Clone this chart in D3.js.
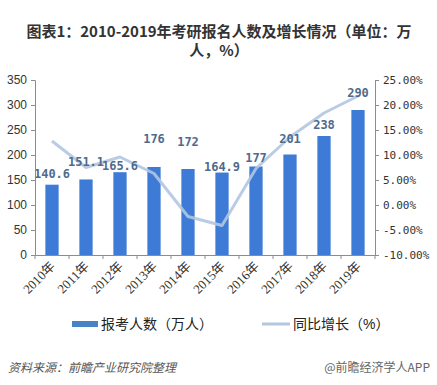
<!DOCTYPE html>
<html>
<head>
<meta charset="utf-8">
<script src="https://cdn.jsdelivr.net/npm/d3@7.9.0/dist/d3.min.js"></script>
<style>
  body { margin: 0; background: #fff; }
  svg text { font-family: "Liberation Sans", "Noto Sans CJK SC", sans-serif; }
</style>
</head>
<body>
<svg id="chart" width="437" height="385"></svg>
<script>
const years = ['2010年', '2011年', '2012年', '2013年', '2014年', '2015年', '2016年', '2017年', '2018年', '2019年'];
const applicants = [140.6, 151.1, 165.6, 176, 172, 164.9, 177, 201, 238, 290];
const growth = [12.8, 7.5, 9.6, 6.3, -2.3, -4.1, 7.3, 13.6, 18.4, 21.8];
const leftTicks = [0, 50, 100, 150, 200, 250, 300, 350];
const rightTicks = [-10, -5, 0, 5, 10, 15, 20, 25];
// label lift above bar top (Excel placed them by hand)
const labelLift = [7, 13, 2, 24, 23, 2, 5, 12, 7, 13];

const svg = d3.select('#chart');
const plotLeft = 35, plotRight = 375, plotTop = 80, plotBottom = 255;

const x = d3.scaleBand().domain(years).range([plotLeft, plotRight]).paddingInner(0.61).paddingOuter(0.305);
const xb = d3.scaleBand().domain(years).range([plotLeft, plotRight]);
const y = d3.scaleLinear().domain([0, 350]).range([plotBottom, plotTop]);
const y2 = d3.scaleLinear().domain([-10, 25]).range([plotBottom, plotTop]);

// title
const title = svg.append('text')
  .attr('text-anchor', 'middle')
  .attr('font-size', 15)
  .attr('font-weight', 'bold')
  .attr('fill', '#333')
  .style('font-family', '"Noto Sans CJK SC", sans-serif');
title.append('tspan').attr('x', 219).attr('y', 37).text('图表1：2010-2019年考研报名人数及增长情况（单位：万');
title.append('tspan').attr('x', 219).attr('y', 56).text('人，%）');

// bars
svg.selectAll('rect.bar')
  .data(applicants)
  .enter()
  .append('rect')
  .attr('class', 'bar')
  .attr('x', (d, i) => x(years[i]))
  .attr('width', x.bandwidth())
  .attr('y', d => y(d))
  .attr('height', d => plotBottom - y(d))
  .attr('fill', '#3e7bd6');

// growth line
const line = d3.line()
  .x((d, i) => xb(years[i]) + xb.bandwidth() / 2)
  .y(d => y2(d));
svg.append('path')
  .datum(growth)
  .attr('d', line)
  .attr('fill', 'none')
  .attr('stroke', '#b3c7e0')
  .attr('stroke-width', 3)
  .attr('stroke-linejoin', 'round')
  .attr('opacity', 0.9);

// data labels
svg.selectAll('text.val')
  .data(applicants)
  .enter()
  .append('text')
  .attr('class', 'val')
  .attr('x', (d, i) => xb(years[i]) + xb.bandwidth() / 2)
  .attr('y', (d, i) => y(d) - labelLift[i])
  .attr('text-anchor', 'middle')
  .attr('font-size', 12)
  .attr('font-weight', 'bold')
  .attr('fill', '#4f6b8c')
  .style('font-family', '"DejaVu Sans Mono", monospace')
  .text(d => d);

// axes
const axisColor = '#8c8c8c';
const gl = svg.append('g').attr('transform', `translate(${plotLeft},0)`)
  .call(d3.axisLeft(y).tickValues(leftTicks).tickSize(4).tickPadding(4));
const gr = svg.append('g').attr('transform', `translate(${plotRight},0)`)
  .call(d3.axisRight(y2).tickValues(rightTicks).tickSize(4).tickPadding(4)
    .tickFormat(d => d.toFixed(2) + '%'));
const gb = svg.append('g').attr('transform', `translate(0,${plotBottom})`)
  .call(d3.axisBottom(xb).tickSize(0).tickPadding(6));

[gl, gr, gb].forEach(g => {
  g.select('.domain').attr('stroke', axisColor);
  g.selectAll('.tick line').attr('stroke', axisColor);
  g.selectAll('text').attr('fill', '#333');
});
gl.selectAll('text').attr('font-size', 12).style('font-family', '"Liberation Sans", sans-serif');
gr.selectAll('text').attr('font-size', 11).style('font-family', '"DejaVu Sans Mono", monospace');

// category boundary ticks on the bottom axis
gb.selectAll('line.bt')
  .data(d3.range(years.length + 1))
  .enter()
  .append('line')
  .attr('class', 'bt')
  .attr('x1', i => plotLeft + i * xb.step())
  .attr('x2', i => plotLeft + i * xb.step())
  .attr('y1', 0)
  .attr('y2', 4)
  .attr('stroke', axisColor);

gb.selectAll('.tick text')
  .attr('font-size', 13)
  .attr('text-anchor', 'end')
  .attr('x', 0)
  .attr('y', 0)
  .attr('dy', 0)
  .attr('transform', 'translate(4,12) rotate(-45)')
  .style('font-family', '"Liberation Serif", "Noto Sans CJK SC", serif');

// legend
const lg = svg.append('g').attr('font-size', 14).attr('fill', '#222')
  .style('font-family', '"Noto Sans CJK SC", sans-serif');
lg.append('rect').attr('x', 72).attr('y', 321).attr('width', 26).attr('height', 6).attr('fill', '#4a82c6');
lg.append('text').attr('x', 101).attr('y', 329).text('报考人数（万人）');
lg.append('line').attr('x1', 262).attr('x2', 290).attr('y1', 324).attr('y2', 324)
  .attr('stroke', '#b3c7e0').attr('stroke-width', 3);
lg.append('text').attr('x', 293).attr('y', 329).text('同比增长（%）');

// footer
svg.append('text')
  .attr('x', 8).attr('y', 372)
  .attr('font-size', 12)
  .attr('font-style', 'italic')
  .attr('fill', '#555')
  .style('font-family', '"Noto Sans CJK SC", sans-serif')
  .text('资料来源：前瞻产业研究院整理');
svg.append('text')
  .attr('x', 430).attr('y', 372)
  .attr('text-anchor', 'end')
  .attr('font-size', 12)
  .attr('fill', '#666')
  .style('font-family', '"Noto Sans CJK SC", sans-serif')
  .text('@前瞻经济学人APP');
</script>
</body>
</html>
